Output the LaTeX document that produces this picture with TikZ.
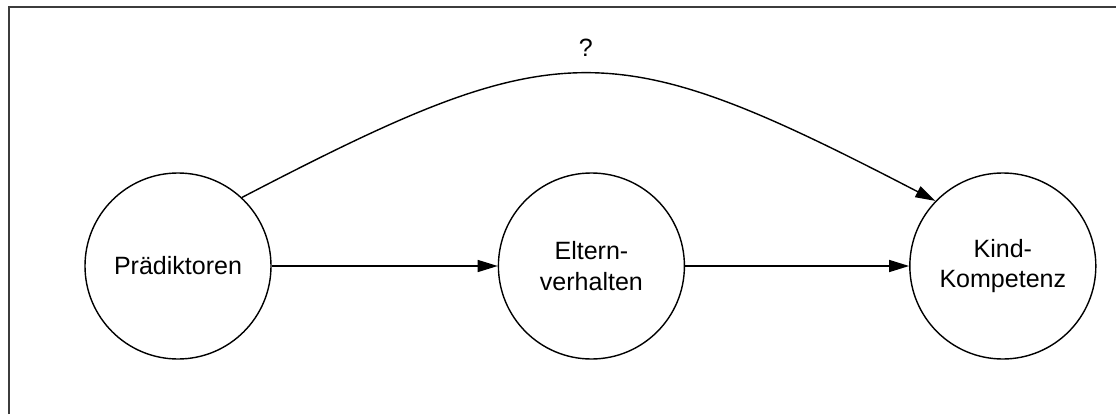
\documentclass[tikz,border=0pt]{standalone}
\usepackage{fontspec}
\setmainfont{Liberation Sans}
\usetikzlibrary{arrows.meta, positioning}
\definecolor{framegray}{RGB}{60,60,60}
\tikzset{
    % Circles for the constructs
    construct/.style={circle, draw=black, line width=1pt, minimum size=4.65cm, inner sep=0pt,
                      font=\fontsize{17.8}{21.5}\selectfont, align=center},
    % Arrow style
    patharrow/.style={-{Triangle[length=5mm, width=3mm]}, line width=1pt},
}
\begin{document}
\begin{tikzpicture}[x=0.25mm, y=-0.25mm]

\useasboundingbox (0,0) rectangle (1116,414);

% ============================================================
% Frame (top and left edge)
% ============================================================
\draw[framegray, line width=0.5mm] (9,414) -- (9,7) -- (1116,7);

% ============================================================
% Constructs
% ============================================================
\node[construct] (pred) at (178,266) {Prädiktoren};
\node[construct, right=5.65cm of pred] (eltern) {Eltern-\\verhalten};
\node[construct, right=5.6cm of eltern] (kind) {Kind-\\Kompetenz};

% ============================================================
% Paths
% ============================================================
\draw[patharrow] (pred) -- (eltern);
\draw[patharrow] (eltern) -- (kind);
\draw[patharrow] (pred.47.6) .. controls (560,32) and (610,32) .. (kind.136)
    node[midway, above=3mm, font=\fontsize{17.8}{21.5}\selectfont] (frage) {?};

\end{tikzpicture}
\end{document}
